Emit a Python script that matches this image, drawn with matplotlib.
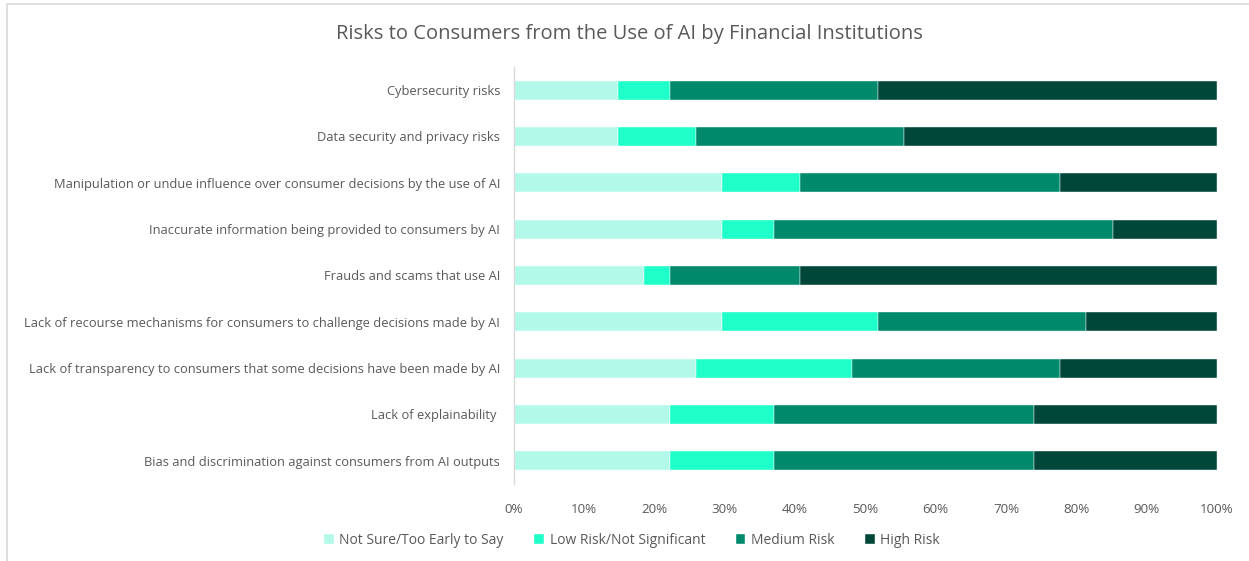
import numpy as np
import matplotlib.pyplot as plt
from matplotlib.patches import Rectangle

# Survey categories (drawn top to bottom)
risks = [
    "Cybersecurity risks",
    "Data security and privacy risks",
    "Manipulation or undue influence over consumer decisions by the use of AI",
    "Inaccurate information being provided to consumers by AI",
    "Frauds and scams that use AI",
    "Lack of recourse mechanisms for consumers to challenge decisions made by AI",
    "Lack of transparency to consumers that some decisions have been made by AI",
    "Lack of explainability ",
    "Bias and discrimination against consumers from AI outputs",
]

# Share of respondents (%) per rating
not_sure = [14.8, 14.8, 29.6, 29.6, 18.5, 29.6, 25.9, 22.2, 22.2]
low_risk = [7.4, 11.1, 11.1, 7.4, 3.7, 22.2, 22.2, 14.8, 14.8]
medium_risk = [29.6, 29.6, 37.0, 48.2, 18.5, 29.6, 29.6, 37.0, 37.0]
high_risk = [48.2, 44.5, 22.3, 14.8, 59.3, 18.6, 22.3, 26.0, 26.0]

series = [
    ("Not Sure/Too Early to Say", not_sure, "#b3f9ea"),
    ("Low Risk/Not Significant", low_risk, "#1fffca"),
    ("Medium Risk", medium_risk, "#00896b"),
    ("High Risk", high_risk, "#00473a"),
]

plt.rcParams['font.family'] = ['Open Sans', 'DejaVu Sans']
text_color = "#595959"

fig = plt.figure(figsize=(12.49, 5.61), dpi=100)
ax = fig.add_axes([0.4115, 0.1373, 0.5629, 0.7433])

y = np.arange(len(risks))
left = np.zeros(len(risks))
for name, vals, color in series:
    vals = np.array(vals)
    ax.barh(y, vals, left=left, height=0.41, color=color, label=name,
            edgecolor="white", linewidth=0.3)
    left += vals

ax.set_ylim(len(risks) - 0.5, -0.5)
ax.set_xlim(0, 100)
ax.set_yticks(y)
ax.set_yticklabels(risks, fontsize=9.25, color=text_color)
ax.set_xticks(np.arange(0, 101, 10))
ax.set_xticklabels([f"{v}%" for v in range(0, 101, 10)], fontsize=9.6, color=text_color)
ax.tick_params(axis="both", length=0)
ax.tick_params(axis="y", pad=10)
ax.tick_params(axis="x", pad=14)
for side in ["top", "right", "bottom"]:
    ax.spines[side].set_visible(False)
ax.spines["left"].set_color("#d9d9d9")
ax.spines["left"].set_linewidth(1.0)

fig.text(0.504, 0.940, "Risks to Consumers from the Use of AI by Financial Institutions",
         ha="center", va="center", fontsize=14.5, color=text_color)

leg = fig.legend(loc="center", bbox_to_anchor=(0.506, 0.037), ncol=4, frameon=False,
                 fontsize=10, handlelength=0.7, handleheight=0.7, handletextpad=0.4,
                 columnspacing=2.2)
for t in leg.get_texts():
    t.set_color(text_color)

# light frame around the chart area
fig.patches.append(Rectangle((7 / 1249, -0.1), 1.2, 1.1 - 4 / 561, transform=fig.transFigure,
                             fill=False, edgecolor="#d9d9d9", linewidth=1.2))

fig.savefig("out.png", dpi=100)
